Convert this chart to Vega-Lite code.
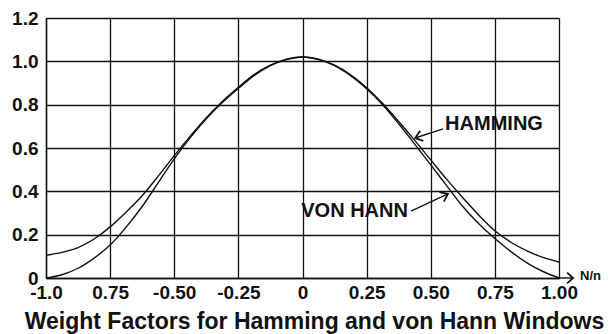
{
  "$schema": "https://vega.github.io/schema/vega-lite/v6.json",
  "autosize": "none",
  "width": 513,
  "height": 260,
  "padding": {"left": 46, "top": 18, "right": 51, "bottom": 56},
  "background": "white",
  "config": {
    "view": {"stroke": null},
    "font": "Liberation Sans",
    "axis": {
      "grid": true,
      "gridColor": "#111",
      "gridOpacity": 1,
      "gridWidth": 1.3,
      "domainColor": "#111",
      "domainWidth": 1.4,
      "ticks": false,
      "labelFont": "Liberation Sans",
      "labelFontWeight": "bold",
      "labelFontSize": 19,
      "labelColor": "#111",
      "labelFlush": false,
      "labelOverlap": false,
      "labelBound": false
    }
  },
  "datasets": {
    "curves": [
      {"x": -1.0, "w": 0.105, "window": "Hamming"},
      {"x": -0.9375, "w": 0.118, "window": "Hamming"},
      {"x": -0.875, "w": 0.14, "window": "Hamming"},
      {"x": -0.8125, "w": 0.18, "window": "Hamming"},
      {"x": -0.75, "w": 0.236, "window": "Hamming"},
      {"x": -0.6875, "w": 0.305, "window": "Hamming"},
      {"x": -0.625, "w": 0.38, "window": "Hamming"},
      {"x": -0.5625, "w": 0.47, "window": "Hamming"},
      {"x": -0.5, "w": 0.565, "window": "Hamming"},
      {"x": -0.4375, "w": 0.655, "window": "Hamming"},
      {"x": -0.375, "w": 0.74, "window": "Hamming"},
      {"x": -0.3125, "w": 0.815, "window": "Hamming"},
      {"x": -0.25, "w": 0.88, "window": "Hamming"},
      {"x": -0.1875, "w": 0.94, "window": "Hamming"},
      {"x": -0.125, "w": 0.982, "window": "Hamming"},
      {"x": -0.0625, "w": 1.01, "window": "Hamming"},
      {"x": 0.0, "w": 1.02, "window": "Hamming"},
      {"x": 0.0625, "w": 1.01, "window": "Hamming"},
      {"x": 0.125, "w": 0.982, "window": "Hamming"},
      {"x": 0.1875, "w": 0.938, "window": "Hamming"},
      {"x": 0.25, "w": 0.878, "window": "Hamming"},
      {"x": 0.3125, "w": 0.805, "window": "Hamming"},
      {"x": 0.375, "w": 0.722, "window": "Hamming"},
      {"x": 0.4375, "w": 0.635, "window": "Hamming"},
      {"x": 0.5, "w": 0.545, "window": "Hamming"},
      {"x": 0.5625, "w": 0.455, "window": "Hamming"},
      {"x": 0.625, "w": 0.37, "window": "Hamming"},
      {"x": 0.6875, "w": 0.29, "window": "Hamming"},
      {"x": 0.75, "w": 0.218, "window": "Hamming"},
      {"x": 0.8125, "w": 0.165, "window": "Hamming"},
      {"x": 0.875, "w": 0.125, "window": "Hamming"},
      {"x": 0.9375, "w": 0.095, "window": "Hamming"},
      {"x": 1.0, "w": 0.074, "window": "Hamming"},
      {"x": -1.0, "w": 0.0, "window": "von Hann"},
      {"x": -0.9375, "w": 0.015, "window": "von Hann"},
      {"x": -0.875, "w": 0.045, "window": "von Hann"},
      {"x": -0.8125, "w": 0.092, "window": "von Hann"},
      {"x": -0.75, "w": 0.152, "window": "von Hann"},
      {"x": -0.6875, "w": 0.235, "window": "von Hann"},
      {"x": -0.625, "w": 0.33, "window": "von Hann"},
      {"x": -0.5625, "w": 0.44, "window": "von Hann"},
      {"x": -0.5, "w": 0.55, "window": "von Hann"},
      {"x": -0.4375, "w": 0.648, "window": "von Hann"},
      {"x": -0.375, "w": 0.735, "window": "von Hann"},
      {"x": -0.3125, "w": 0.81, "window": "von Hann"},
      {"x": -0.25, "w": 0.875, "window": "von Hann"},
      {"x": -0.1875, "w": 0.935, "window": "von Hann"},
      {"x": -0.125, "w": 0.98, "window": "von Hann"},
      {"x": -0.0625, "w": 1.008, "window": "von Hann"},
      {"x": 0.0, "w": 1.02, "window": "von Hann"},
      {"x": 0.0625, "w": 1.008, "window": "von Hann"},
      {"x": 0.125, "w": 0.98, "window": "von Hann"},
      {"x": 0.1875, "w": 0.934, "window": "von Hann"},
      {"x": 0.25, "w": 0.874, "window": "von Hann"},
      {"x": 0.3125, "w": 0.8, "window": "von Hann"},
      {"x": 0.375, "w": 0.712, "window": "von Hann"},
      {"x": 0.4375, "w": 0.618, "window": "von Hann"},
      {"x": 0.5, "w": 0.522, "window": "von Hann"},
      {"x": 0.5625, "w": 0.425, "window": "von Hann"},
      {"x": 0.625, "w": 0.33, "window": "von Hann"},
      {"x": 0.6875, "w": 0.25, "window": "von Hann"},
      {"x": 0.75, "w": 0.182, "window": "von Hann"},
      {"x": 0.8125, "w": 0.122, "window": "von Hann"},
      {"x": 0.875, "w": 0.07, "window": "von Hann"},
      {"x": 0.9375, "w": 0.03, "window": "von Hann"},
      {"x": 1.0, "w": 0.0, "window": "von Hann"}
    ],
    "pointers": [
      {"name": "HAMMING", "x": 0.548, "y": 0.688, "tipx": 0.439, "tipy": 0.646},
      {"name": "VON HANN", "x": 0.423, "y": 0.309, "tipx": 0.567, "tipy": 0.388},
      {"name": "N/n", "x": 1.0, "y": 0.0, "tipx": 1.055, "tipy": 0.0}
    ],
    "labels": [
      {"text": "HAMMING", "x": 0.556, "y": 0.712},
      {"text": "VON HANN", "x": 0.411, "y": 0.307}
    ]
  },
  "layer": [
    {
      "data": {"name": "curves"},
      "mark": {"type": "line", "interpolate": "monotone", "color": "#111", "strokeWidth": 1.4},
      "encoding": {
        "x": {
          "field": "x",
          "type": "quantitative",
          "scale": {"domain": [-1, 1], "nice": false, "zero": false},
          "axis": {
            "values": [-1, -0.75, -0.5, -0.25, 0, 0.25, 0.5, 0.75, 1],
            "labelExpr": "datum.value == -1 ? '-1.0' : datum.value == -0.75 ? '0.75' : datum.value == -0.5 ? '-0.50' : datum.value == -0.25 ? '-0.25' : datum.value == 0 ? '0' : format(datum.value, '.2f')",
            "labelPadding": 5,
            "title": "Weight Factors for Hamming and von Hann Windows",
            "titleFont": "Liberation Sans",
            "titleFontSize": 23,
            "titleFontWeight": "bold",
            "titleColor": "#111",
            "titleX": 268,
            "titleY": 50,
            "titleBaseline": "alphabetic",
            "titleAnchor": "middle",
            "titleAlign": "center"
          }
        },
        "y": {
          "field": "w",
          "type": "quantitative",
          "scale": {"domain": [0, 1.2], "nice": false},
          "axis": {
            "values": [0, 0.2, 0.4, 0.6, 0.8, 1.0, 1.2],
            "labelExpr": "datum.value == 0 ? '0' : format(datum.value, '.1f')",
            "labelPadding": 8,
            "title": null
          }
        },
        "detail": {"field": "window", "type": "nominal"}
      }
    },
    {
      "data": {"name": "pointers"},
      "mark": {"type": "rule", "color": "#111", "strokeWidth": 1.4},
      "encoding": {
        "x": {"field": "x", "type": "quantitative"},
        "y": {"field": "y", "type": "quantitative"},
        "x2": {"field": "tipx"},
        "y2": {"field": "tipy"}
      }
    },
    {
      "data": {"name": "pointers"},
      "transform": [{"filter": "datum.name == 'HAMMING'"}],
      "mark": {"type": "point", "shape": "M-1,-0.75L0,0L-1,0.75", "filled": false, "stroke": "#111", "strokeWidth": 1.8, "size": 196, "angle": 162, "opacity": 1},
      "encoding": {
        "x": {"field": "tipx", "type": "quantitative"},
        "y": {"field": "tipy", "type": "quantitative"}
      }
    },
    {
      "data": {"name": "pointers"},
      "transform": [{"filter": "datum.name == 'VON HANN'"}],
      "mark": {"type": "point", "shape": "M-1,-0.75L0,0L-1,0.75", "filled": false, "stroke": "#111", "strokeWidth": 1.8, "size": 196, "angle": 335, "opacity": 1},
      "encoding": {
        "x": {"field": "tipx", "type": "quantitative"},
        "y": {"field": "tipy", "type": "quantitative"}
      }
    },
    {
      "data": {"name": "pointers"},
      "transform": [{"filter": "datum.name == 'N/n'"}],
      "mark": {"type": "point", "shape": "M-1,-0.9L0,0L-1,0.9", "filled": false, "stroke": "#111", "strokeWidth": 1.8, "size": 144, "angle": 0, "opacity": 1},
      "encoding": {
        "x": {"field": "tipx", "type": "quantitative"},
        "y": {"field": "tipy", "type": "quantitative"}
      }
    },
    {
      "data": {"name": "labels"},
      "transform": [{"filter": "datum.text == 'HAMMING'"}],
      "mark": {"type": "text", "font": "Liberation Sans", "fontWeight": "bold", "fontSize": 20, "color": "#111", "align": "left", "baseline": "middle"},
      "encoding": {
        "x": {"field": "x", "type": "quantitative"},
        "y": {"field": "y", "type": "quantitative"},
        "text": {"field": "text"}
      }
    },
    {
      "data": {"name": "labels"},
      "transform": [{"filter": "datum.text == 'VON HANN'"}],
      "mark": {"type": "text", "font": "Liberation Sans", "fontWeight": "bold", "fontSize": 20, "color": "#111", "align": "right", "baseline": "middle"},
      "encoding": {
        "x": {"field": "x", "type": "quantitative"},
        "y": {"field": "y", "type": "quantitative"},
        "text": {"field": "text"}
      }
    },
    {
      "data": {"name": "pointers"},
      "transform": [{"filter": "datum.name == 'N/n'"}],
      "mark": {"type": "text", "font": "Liberation Sans", "fontWeight": "bold", "fontSize": 13, "color": "#111", "align": "left", "baseline": "middle", "dx": 7, "dy": -2},
      "encoding": {
        "x": {"field": "tipx", "type": "quantitative"},
        "y": {"field": "tipy", "type": "quantitative"},
        "text": {"field": "name"}
      }
    }
  ]
}
